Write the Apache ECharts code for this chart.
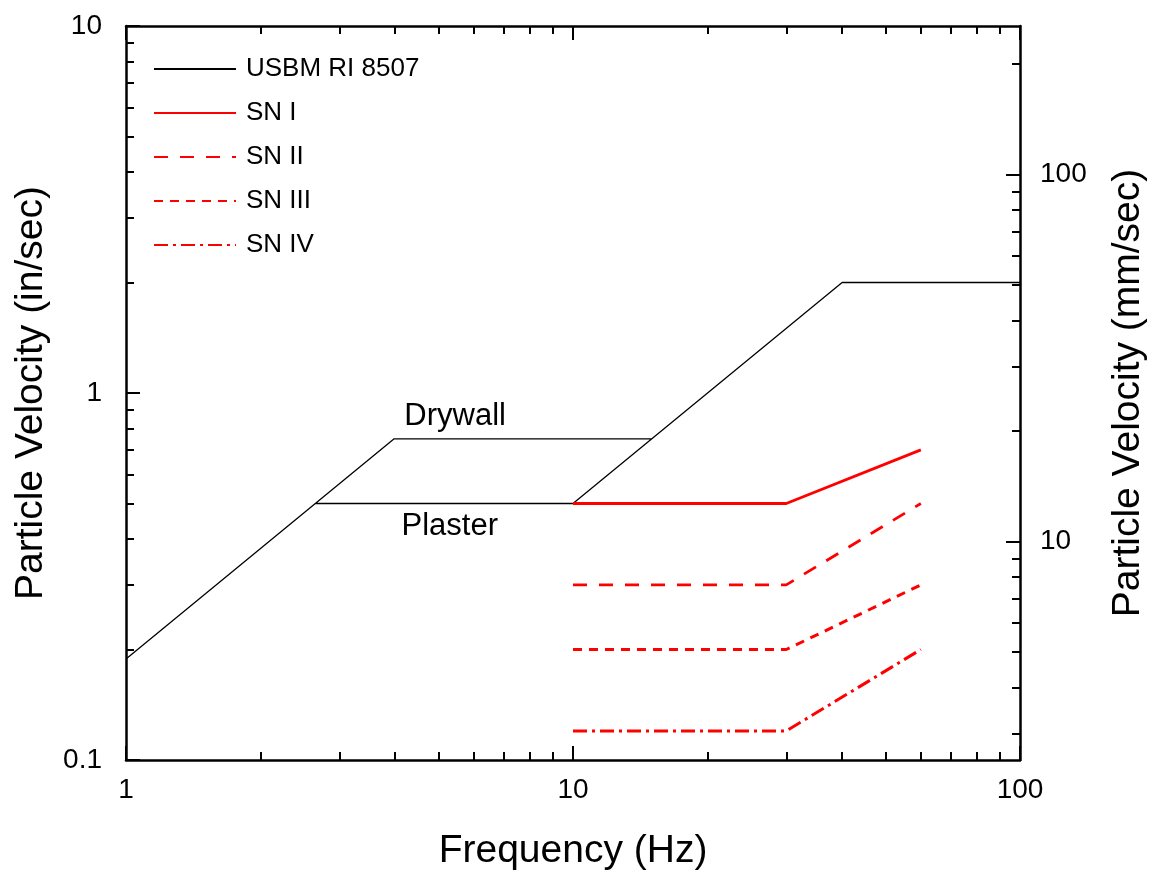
<!DOCTYPE html>
<html>
<head>
<meta charset="utf-8">
<script src="https://cdn.jsdelivr.net/npm/echarts@6/dist/echarts.min.js"></script>
<style>
html,body{margin:0;padding:0;background:#ffffff;}
#chart{width:1160px;height:888px;}
</style>
</head>
<body>
<div id="chart"></div>
<script>
// ---------------- data ----------------
const seriesNames = ['USBM RI 8507', 'SN I', 'SN II', 'SN III', 'SN IV'];
// USBM RI 8507 (two polyline pieces, separated by a break)
const usbmFreq = [1, 3.98, 15, null, 2.65, 10, 40, 100];
const usbmVel  = [0.1885, 0.75, 0.75, null, 0.5, 0.5, 2.0, 2.0];
// SN criteria
const snFreq = [10, 30, 60];
const sn1Vel = [0.5, 0.5, 0.7];
const sn2Vel = [0.3, 0.3, 0.5];
const sn3Vel = [0.2, 0.2, 0.3];
const sn4Vel = [0.12, 0.12, 0.2];
// annotations
const annotationText = ['Drywall', 'Plaster'];
const annotationFreq = [5.45, 5.3];
const annotationVel  = [0.75, 0.5];
// ticks
const xMajorTicks = [1, 10, 100];
const xMinorTicks = [2, 3, 4, 5, 6, 7, 8, 9, 20, 30, 40, 50, 60, 70, 80, 90];
const yInMajorTicks = [0.1, 1, 10];
const yInMinorTicks = [0.2, 0.3, 0.4, 0.5, 0.6, 0.7, 0.8, 0.9, 2, 3, 4, 5, 6, 7, 8, 9];
const yMmMajorTicks = [10, 100];
const yMmMinorTicks = [3, 4, 5, 6, 7, 8, 9, 20, 30, 40, 50, 60, 70, 80, 90, 200];
const xRange = [1, 100];
const yInRange = [0.1, 10];
const mmPerInch = 25.4;

// ---------------- chart ----------------
const FONT = '"Liberation Sans", Arial, sans-serif';
const BLACK = '#000000';
const RED = '#ff0000';

function pairs(xs, ys) {
  return xs.map((x, i) => (x === null ? '-' : [x, ys[i]]));
}

function logAxis(opts) {
  const base = {
    type: 'log',
    logBase: 10,
    min: opts.min,
    max: opts.max,
    position: opts.position,
    gridIndex: 0,
    axisLine: { show: !!opts.line, onZero: false, lineStyle: { color: BLACK, width: 2.5 } },
    axisTick: {
      show: true, inside: true, length: opts.tickLen,
      customValues: opts.ticks,
      lineStyle: { color: BLACK, width: 2 }
    },
    minorTick: { show: false },
    splitLine: { show: false },
    axisLabel: opts.labels ? {
      show: true, customValues: opts.labels, color: BLACK,
      fontSize: 28, fontFamily: FONT, margin: opts.labelMargin
    } : { show: false }
  };
  if (opts.name) {
    base.name = opts.name;
    base.nameLocation = 'middle';
    base.nameGap = opts.nameGap;
    base.nameTextStyle = { fontSize: 39, fontFamily: FONT, color: BLACK };
  }
  return base;
}

const mmRange = [yInRange[0] * mmPerInch, yInRange[1] * mmPerInch];

const option = {
  backgroundColor: '#ffffff',
  animation: false,
  grid: { left: 126, right: 140, top: 26, bottom: 128, containLabel: false },
  legend: {
    data: seriesNames,
    orient: 'vertical',
    left: 148,
    top: 49,
    itemWidth: 82,
    itemHeight: 14,
    itemGap: 14,
    itemStyle: { opacity: 0, color: 'rgba(0,0,0,0)', borderWidth: 0 },
    textStyle: { fontSize: 26, lineHeight: 30, color: BLACK, fontFamily: FONT, padding: [0, 0, 0, 5] },
    selectedMode: false
  },
  xAxis: [
    logAxis({ min: xRange[0], max: xRange[1], position: 'bottom', line: true, tickLen: 14,
              ticks: xMajorTicks, labels: xMajorTicks, labelMargin: 16,
              name: 'Frequency (Hz)', nameGap: 72 }),
    logAxis({ min: xRange[0], max: xRange[1], position: 'bottom', tickLen: 8, ticks: xMinorTicks }),
    logAxis({ min: xRange[0], max: xRange[1], position: 'top', line: true, tickLen: 14, ticks: xMajorTicks }),
    logAxis({ min: xRange[0], max: xRange[1], position: 'top', tickLen: 8, ticks: xMinorTicks })
  ],
  yAxis: [
    logAxis({ min: yInRange[0], max: yInRange[1], position: 'left', line: true, tickLen: 14,
              ticks: yInMajorTicks, labels: yInMajorTicks, labelMargin: 24,
              name: 'Particle Velocity (in/sec)', nameGap: 75 }),
    logAxis({ min: yInRange[0], max: yInRange[1], position: 'left', tickLen: 8, ticks: yInMinorTicks }),
    logAxis({ min: mmRange[0], max: mmRange[1], position: 'right', line: true, tickLen: 14,
              ticks: yMmMajorTicks, labels: yMmMajorTicks, labelMargin: 20,
              name: 'Particle Velocity (mm/sec)', nameGap: 89 }),
    logAxis({ min: mmRange[0], max: mmRange[1], position: 'right', tickLen: 8, ticks: yMmMinorTicks })
  ],
  series: [
    {
      name: seriesNames[0], type: 'line', xAxisIndex: 0, yAxisIndex: 0,
      data: pairs(usbmFreq, usbmVel), symbol: 'none', connectNulls: false,
      lineStyle: { color: BLACK, width: 1.3 }, itemStyle: { color: BLACK }, z: 3
    },
    {
      name: seriesNames[1], type: 'line', xAxisIndex: 0, yAxisIndex: 0,
      data: pairs(snFreq, sn1Vel), symbol: 'none',
      lineStyle: { color: RED, width: 2.8 }, itemStyle: { color: RED }, z: 4
    },
    {
      name: seriesNames[2], type: 'line', xAxisIndex: 0, yAxisIndex: 0,
      data: pairs(snFreq, sn2Vel), symbol: 'none',
      lineStyle: { color: RED, width: 2.8, type: [14, 12] }, itemStyle: { color: RED }
    },
    {
      name: seriesNames[3], type: 'line', xAxisIndex: 0, yAxisIndex: 0,
      data: pairs(snFreq, sn3Vel), symbol: 'none',
      lineStyle: { color: RED, width: 3, type: [9, 7] }, itemStyle: { color: RED }
    },
    {
      name: seriesNames[4], type: 'line', xAxisIndex: 0, yAxisIndex: 0,
      data: pairs(snFreq, sn4Vel), symbol: 'none',
      lineStyle: { color: RED, width: 3, type: [14, 5, 3, 5] }, itemStyle: { color: RED }
    },
    {
      name: 'annotations', type: 'scatter', xAxisIndex: 0, yAxisIndex: 0,
      symbolSize: 0, silent: true,
      itemStyle: { color: 'rgba(0,0,0,0)', opacity: 1 },
      data: annotationText.map((t, i) => ({
        name: t,
        value: [annotationFreq[i], annotationVel[i]],
        label: { position: i === 0 ? 'top' : 'bottom' }
      })),
      label: {
        show: true, formatter: '{b}', distance: 7,
        fontSize: 31, fontFamily: FONT, color: BLACK, opacity: 1
      }
    }
  ]
};

const chart = echarts.init(document.getElementById('chart'), null, { renderer: 'canvas' });
chart.setOption(option);
</script>
</body>
</html>
